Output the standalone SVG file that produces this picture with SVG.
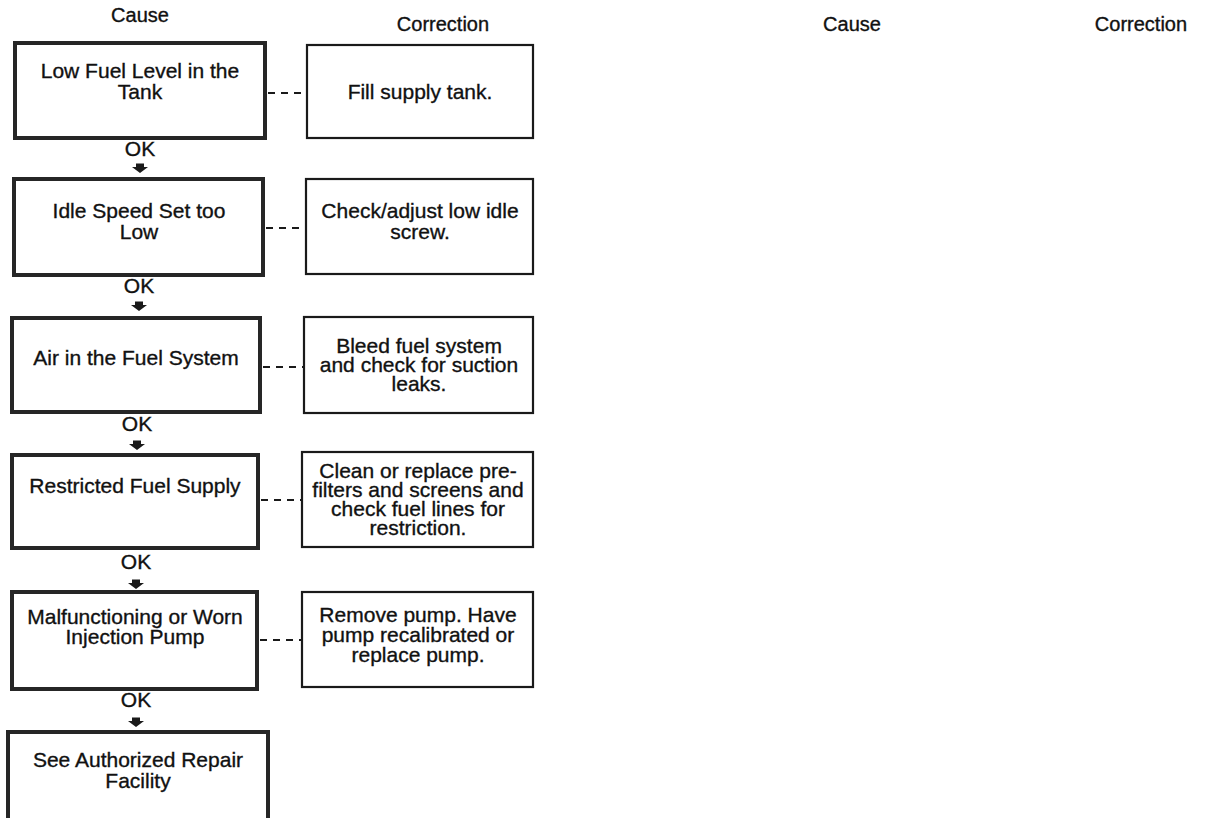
<svg xmlns="http://www.w3.org/2000/svg" width="1208" height="818" viewBox="0 0 1208 818">
<style>
text{font-family:"Liberation Sans",Arial,sans-serif;font-size:21px;fill:#111;stroke:#111;stroke-width:0.35;text-anchor:middle}
.hdr{font-size:20px}
.cause{fill:#fff;stroke:#262626;stroke-width:4}
.corr{fill:#fff;stroke:#1a1a1a;stroke-width:2.2}
.dash{stroke:#1a1a1a;stroke-width:2;stroke-dasharray:7 6;fill:none}
</style>
<defs>
<path id="arr" d="M-4,-4.5 L4,-4.5 L4,-1 L8,-1 L0,5 L-8,-1 L-4,-1 Z" fill="#1a1a1a"/>
</defs>
<rect width="1208" height="818" fill="#fff"/>
<g id="headers">
<text class="hdr" x="140" y="22">Cause</text>
<text class="hdr" x="443" y="31">Correction</text>
<text class="hdr" x="852" y="31">Cause</text>
<text class="hdr" x="1141" y="31">Correction</text>
</g>
<g id="connectors">
<line class="dash" x1="268" y1="93" x2="307" y2="93"/>
<line class="dash" x1="266" y1="228" x2="306" y2="228"/>
<line class="dash" x1="263" y1="367" x2="304" y2="367"/>
<line class="dash" x1="261" y1="500" x2="302" y2="500"/>
<line class="dash" x1="260" y1="640" x2="302" y2="640"/>
<text x="140" y="156">OK</text><use href="#arr" x="140" y="168"/>
<text x="139" y="293">OK</text><use href="#arr" x="139" y="306"/>
<text x="137" y="431">OK</text><use href="#arr" x="137" y="445"/>
<text x="136" y="569">OK</text><use href="#arr" x="136" y="584"/>
<text x="136" y="707">OK</text><use href="#arr" x="136" y="722"/>
</g>
<g id="cause1"><rect class="cause" x="15" y="43" width="250" height="95"/><text x="140" y="78">Low Fuel Level in the</text><text x="140" y="99">Tank</text></g>
<g id="corr1"><rect class="corr" x="307" y="45" width="226" height="93"/><text x="420" y="99">Fill supply tank.</text></g>
<g id="cause2"><rect class="cause" x="14" y="179" width="249" height="96"/><text x="139" y="218">Idle Speed Set too</text><text x="139" y="239">Low</text></g>
<g id="corr2"><rect class="corr" x="306" y="179" width="227" height="95"/><text x="420" y="218">Check/adjust low idle</text><text x="420" y="239">screw.</text></g>
<g id="cause3"><rect class="cause" x="12" y="318" width="248" height="94"/><text x="136" y="365">Air in the Fuel System</text></g>
<g id="corr3"><rect class="corr" x="304" y="317" width="229" height="96"/><text x="419" y="353">Bleed fuel system</text><text x="419" y="372">and check for suction</text><text x="419" y="391">leaks.</text></g>
<g id="cause4"><rect class="cause" x="12" y="455" width="246" height="93"/><text x="135" y="493">Restricted Fuel Supply</text></g>
<g id="corr4"><rect class="corr" x="302" y="452" width="231" height="95"/><text x="418" y="478">Clean or replace pre-</text><text x="418" y="497">filters and screens and</text><text x="418" y="516">check fuel lines for</text><text x="418" y="535">restriction.</text></g>
<g id="cause5"><rect class="cause" x="12" y="592" width="245" height="97"/><text x="135" y="624">Malfunctioning or Worn</text><text x="135" y="644">Injection Pump</text></g>
<g id="corr5"><rect class="corr" x="302" y="592" width="231" height="95"/><text x="418" y="622">Remove pump. Have</text><text x="418" y="642">pump recalibrated or</text><text x="418" y="662">replace pump.</text></g>
<g id="cause6"><rect class="cause" x="8" y="732" width="260" height="110"/><text x="138" y="767">See Authorized Repair</text><text x="138" y="788">Facility</text></g>
</svg>
